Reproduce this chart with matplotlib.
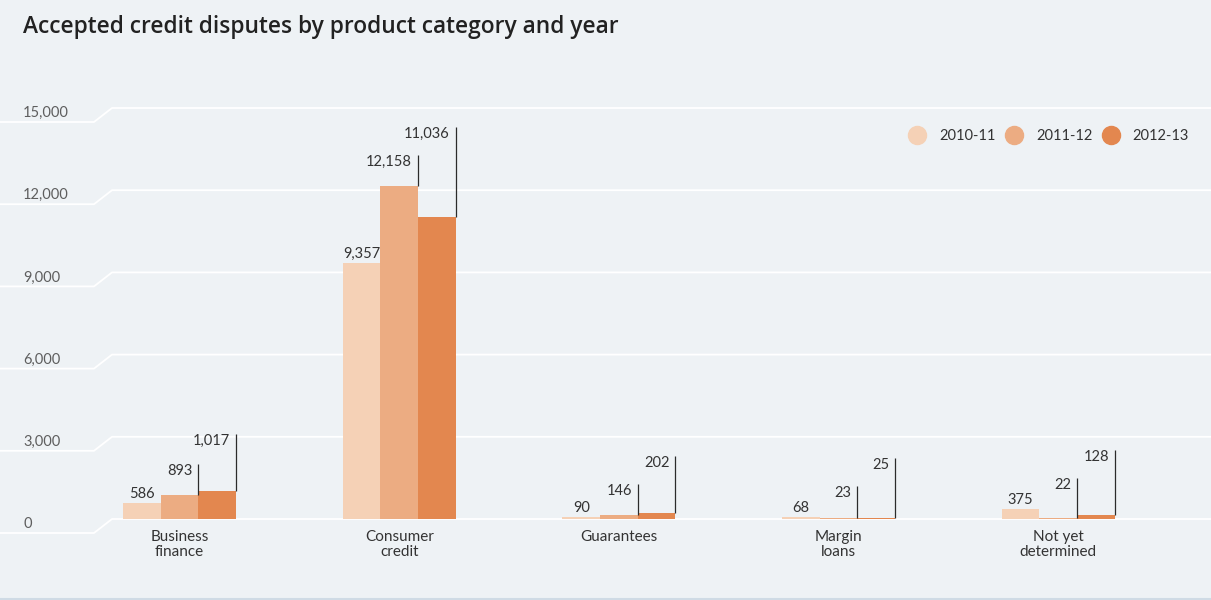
import matplotlib
matplotlib.use("Agg")
import matplotlib.pyplot as plt
from matplotlib.lines import Line2D

# ---- data -------------------------------------------------------------
categories = ["Business\nfinance", "Consumer\ncredit", "Guarantees",
              "Margin\nloans", "Not yet\ndetermined"]
years = ["2010-11", "2011-12", "2012-13"]
disputes_2010_11 = [586, 9357, 90, 68, 375]
disputes_2011_12 = [893, 12158, 146, 23, 22]
disputes_2012_13 = [1017, 11036, 202, 25, 128]
y_ticks = [0, 3000, 6000, 9000, 12000, 15000]
y_tick_labels = ["0", "3,000", "6,000", "9,000", "12,000", "15,000"]

# ---- style ------------------------------------------------------------
W, H, DPI = 1211, 600, 100
BG = "#EEF2F5"
COLORS = ["#F5D1B6", "#ECAC82", "#E3874F"]
TEXT = "#333333"
TICK = "#5E5E5E"
FONT = "Lato"
plt.rcParams["font.family"] = [FONT, "DejaVu Sans"]

fig = plt.figure(figsize=(W / DPI, H / DPI), dpi=DPI, facecolor=BG)

# plot area: value 0 at y=519 px, 15,000 at y=108 px, full figure width
y0_px, ytop_px = 519, 108
ax = fig.add_axes([0, (H - y0_px) / H, 1, (y0_px - ytop_px) / H])
ax.set_facecolor("none")
ax.axis("off")
ymax = 15000
ax.set_ylim(0, ymax)
group0_px, group_step_px = 179.5, 219.7
ax.set_xlim(-group0_px / group_step_px, (W - group0_px) / group_step_px)

units_per_px = ymax / (y0_px - ytop_px)
px = lambda p: p * units_per_px  # pixel height -> data units

# ---- stepped gridlines with labels on the left ---------------------------
ytrans = ax.get_yaxis_transform()
drop = px(14)
for v, lab in zip(y_ticks, y_tick_labels):
    ax.plot([0, 94 / W, 112 / W, 1], [v - drop, v - drop, v, v],
            transform=ytrans, color="white", lw=1.3, zorder=0,
            clip_on=False, solid_capstyle="butt")
    ax.annotate(lab, xy=(23 / W, v), xycoords=ytrans,
                xytext=(0, -9), textcoords="offset pixels",
                ha="left", va="baseline", fontsize=10.5,
                color=TICK, fontweight="normal")

# ---- bars ---------------------------------------------------------------
series = [disputes_2010_11, disputes_2011_12, disputes_2012_13]
bw = 37.7 / group_step_px
xs = list(range(len(categories)))
for k, (vals, col, yr) in enumerate(zip(series, COLORS, years)):
    ax.bar([x + (k - 1) * bw for x in xs], vals, width=bw, color=col,
           label=yr, zorder=2, linewidth=0)

# ---- value labels -------------------------------------------------------
lead2, lead3, gap = px(31), px(57), px(28)
lab_kw = dict(fontsize=10.5, color=TEXT)
for i in xs:
    v1, v2, v3 = disputes_2010_11[i], disputes_2011_12[i], disputes_2012_13[i]
    # first bar: label centred above
    ax.annotate(f"{v1:,}", xy=(i - bw, v1), xytext=(0, 5),
                textcoords="offset pixels", ha="center", va="baseline",
                **lab_kw)
    # second and third bars: label on a leader line at the bar's right edge
    top2 = max(v1, v2) + lead2
    top3 = max(v3 + lead3, top2 + gap)
    for xr, v, top in [(i + bw / 2, v2, top2), (i + 1.5 * bw, v3, top3)]:
        ax.plot([xr, xr], [v, top], color="#2b2b2b", lw=0.9, zorder=3,
                solid_capstyle="butt")
        ax.annotate(f"{v:,}", xy=(xr, top), xytext=(-6, 0),
                    textcoords="offset pixels", ha="right", va="top",
                    **lab_kw)

# ---- category labels ----------------------------------------------------
for i, cat in zip(xs, categories):
    ax.annotate(cat, xy=(i, 0), xytext=(0, -11), textcoords="offset pixels",
                ha="center", va="top", fontsize=11, color=TEXT,
                linespacing=1.05)

# ---- legend -------------------------------------------------------------
handles = [Line2D([], [], marker="o", linestyle="", markersize=13,
                  markerfacecolor=c, markeredgecolor=c, label=y)
           for c, y in zip(COLORS, years)]
fig.legend(handles=handles, loc="center left",
           bbox_to_anchor=(908 / W, 1 - 136 / H), ncol=3, frameon=False,
           borderpad=0, borderaxespad=0, handlelength=1.3,
           handletextpad=0.86, columnspacing=0.6, fontsize=10.5,
           labelcolor=TEXT)

# ---- title & frame -------------------------------------------------------
fig.text(23 / W, 1 - 33 / H, "Accepted credit disputes by product category and year",
         ha="left", va="baseline", fontsize=16.4, fontweight="semibold",
         color="#222222", family=["Open Sans", "DejaVu Sans"])
fig.add_artist(Line2D([0, 1], [1.5 / H, 1.5 / H], color="#CFDBE5", lw=1.5))

fig.savefig("out.png", dpi=DPI, facecolor=BG)
